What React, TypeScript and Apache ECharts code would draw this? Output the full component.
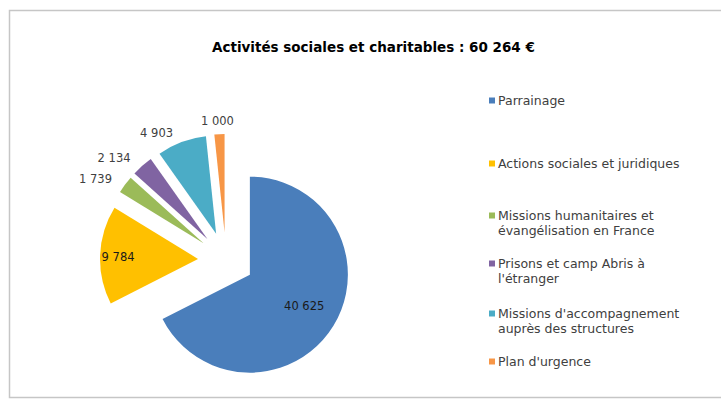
import React, { useEffect, useRef } from "react";
import * as echarts from "echarts";

const titleText = "Activités sociales et charitables : 60 264 €";
const categories = [
  "Parrainage",
  "Actions sociales et juridiques",
  "Missions humanitaires et\névangélisation en France",
  "Prisons et camp Abris à\nl'étranger",
  "Missions d'accompagnement\nauprès des structures",
  "Plan d'urgence",
];
const values = [40625, 9784, 1739, 2134, 4903, 1000];
const colors = ["#4A7EBB", "#FFC000", "#9BBB59", "#8064A2", "#4BACC6", "#F79646"];
const labelPositions = ["inside", "inside", "outside", "outside", "outside", "outside"];
const legendTops = [97, 160, 212, 260, 310, 358];

const fmt = (v: number) => String(v).replace(/\B(?=(\d{3})+(?!\d))/g, " ");
const FONT = "DejaVu Sans";

const labelExtra: Record<number, any> = {
  0: { padding: [20, 0, 0, 20] },
  1: { padding: [0, 56, 0, 0] },
};
const labelShift: Record<number, { dx?: number; dy?: number }> = {
  0: { dy: 4 },
  5: { dx: 20, dy: -3 },
};

export default function App() {
  const ref = useRef<HTMLDivElement>(null);
  useEffect(() => {
    if (!ref.current) return;
    const chart = echarts.init(ref.current, undefined, { renderer: "svg" });
    const legends = categories.map((name, i) => ({
      data: [name],
      orient: "vertical",
      left: 479,
      top: legendTops[i] - 8,
      icon: "none",
      itemWidth: 0,
      itemHeight: 0,
      selectedMode: false,
      formatter: (n: string) => {
        const lines = n.split("\n");
        return lines
          .map((l, k) => (k === 0 ? `{m|}{t|${l}}` : `{i|}{t|${l}}`))
          .join("\n");
      },
      textStyle: {
        rich: {
          m: { backgroundColor: colors[i], width: 6, height: 6, verticalAlign: "middle" },
          i: { width: 6, height: 6 },
          t: { fontFamily: FONT, fontSize: 12.5, color: "#404040", lineHeight: 15, padding: [0, 0, 0, 3] },
        },
      },
    }));
    chart.setOption({
      animation: false,
      backgroundColor: "#ffffff",
      title: {
        text: titleText,
        left: 207,
        top: 35,
        textStyle: { fontFamily: FONT, fontSize: 13.5, fontWeight: "bold", color: "#000000" },
      },
      legend: legends,
      graphic: [
        {
          type: "rect",
          shape: { x: 9.5, y: 10.5, width: 740, height: 387 },
          style: { fill: "none", stroke: "#c6c6c6", lineWidth: 1.5 },
          silent: true,
        },
      ],
      series: [
        {
          type: "pie",
          center: [226, 260],
          radius: 98,
          startAngle: 90,
          clockwise: true,
          selectedMode: "multiple",
          selectedOffset: 28,
          avoidLabelOverlap: false,
          labelLayout: (p: any) => ({ hideOverlap: false, ...(labelShift[p.dataIndex] || {}) }),
          data: categories.map((name, i) => ({
            name,
            value: values[i],
            selected: true,
            itemStyle: { color: colors[i] },
            label: {
              position: labelPositions[i],
              color: labelPositions[i] === "inside" ? "#1a1a1a" : "#404040",
              ...(labelExtra[i] || {}),
            },
          })),
          label: {
            show: true,
            formatter: (p: any) => fmt(p.value),
            fontFamily: FONT,
            fontSize: 11.5,
          },
          labelLine: { show: false, length: 10, length2: 0 },
          emphasis: { disabled: true },
        },
      ],
    });
    return () => chart.dispose();
  }, []);
  return (
    <div
      ref={ref}
      style={{ position: "fixed", left: 0, top: 0, width: 721, height: 405 }}
    />
  );
}
